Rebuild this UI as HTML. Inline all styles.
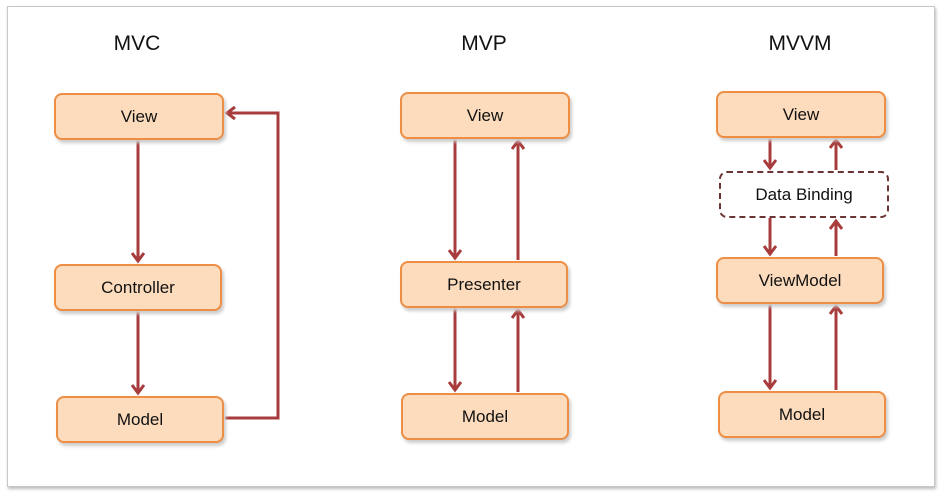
<!DOCTYPE html>
<html><head><style>
body{margin:0;width:941px;height:494px;background:#fff;position:relative;overflow:hidden;font-family:"Liberation Sans",sans-serif;}
.frame{position:absolute;left:7px;top:6px;width:926px;height:479px;border:1px solid #c8c8c8;box-shadow:1px 2px 3px #bbb;}
.t{position:absolute;font-size:21px;color:#111;transform:translateX(-50%);top:32px;}
.b{position:absolute;background:#fcdcbc;border:2px solid #ee8e44;border-radius:8px;box-shadow:2px 3px 3px #ccc;display:flex;align-items:center;justify-content:center;font-size:17px;color:#111;box-sizing:border-box;}
.d{position:absolute;border:2px dashed #6b3434;border-radius:8px;display:flex;align-items:center;justify-content:center;font-size:17px;color:#111;box-sizing:border-box;background:#fff;}
svg{position:absolute;left:0;top:0;}
</style></head><body>
<div class="frame"></div>
<div class="t" style="left:137px">MVC</div>
<div class="t" style="left:484px">MVP</div>
<div class="t" style="left:800px">MVVM</div>
<svg width="941" height="494">
<defs><marker id="a" markerWidth="12" markerHeight="14" refX="9" refY="7" orient="auto" markerUnits="userSpaceOnUse"><path d="M1,1 L9,7 L1,13" fill="none" stroke="#a83c3c" stroke-width="3"/></marker></defs>
<g stroke="#a83c3c" stroke-width="3" fill="none" marker-end="url(#a)">
<path d="M138 140 V261"/><path d="M138 311 V393"/><path d="M225 418 H278 V113 H227"/>
<path d="M455 139 V258"/><path d="M518 260 V141"/><path d="M455 308 V390"/><path d="M518 392 V310"/>
<path d="M770 138 V168"/><path d="M836 170 V140"/><path d="M770 218 V254"/><path d="M836 256 V221"/>
<path d="M770 304 V388"/><path d="M836 390 V306"/>
</g></svg>
<div class="b" style="left:54px;top:93px;width:170px;height:47px">View</div>
<div class="b" style="left:54px;top:264px;width:168px;height:47px">Controller</div>
<div class="b" style="left:56px;top:396px;width:168px;height:47px">Model</div>
<div class="b" style="left:400px;top:92px;width:170px;height:47px">View</div>
<div class="b" style="left:400px;top:261px;width:168px;height:47px">Presenter</div>
<div class="b" style="left:401px;top:393px;width:168px;height:47px">Model</div>
<div class="b" style="left:716px;top:91px;width:170px;height:47px">View</div>
<div class="d" style="left:719px;top:171px;width:170px;height:47px">Data Binding</div>
<div class="b" style="left:716px;top:257px;width:168px;height:47px">ViewModel</div>
<div class="b" style="left:718px;top:391px;width:168px;height:47px">Model</div>
</body></html>
